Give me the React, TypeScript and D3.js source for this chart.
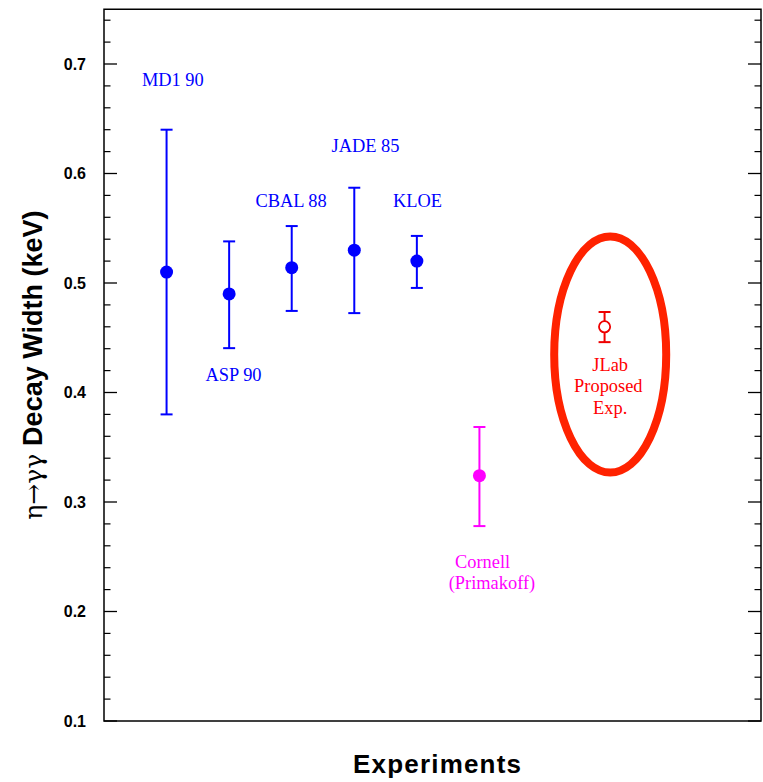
import React from "react";
import * as d3 from "d3";

const names = ["MD1 90", "ASP 90", "CBAL 88", "JADE 85", "KLOE", "Cornell", "JLab"];
const positions = [1, 2, 3, 4, 5, 6, 8];
const values = [0.51, 0.49, 0.514, 0.53, 0.52, 0.324, 0.46];
const errHigh = [0.64, 0.538, 0.552, 0.587, 0.543, 0.3685, 0.4735];
const errLow = [0.38, 0.4405, 0.4745, 0.4725, 0.4955, 0.278, 0.446];
const groups = ["past", "past", "past", "past", "past", "primakoff", "proposed"];

// label lines: [x position, y value (baseline), text, group]
const labelX = [1.1, 2.07, 2.99, 4.18, 5.01, 6.05, 6.2, 8.09, 8.06, 8.09];
const labelY = [0.6795, 0.4105, 0.5697, 0.6199, 0.5697, 0.2397, 0.2205, 0.4199, 0.4005, 0.3808];
const labelText = ["MD1 90", "ASP 90", "CBAL 88", "JADE 85", "KLOE", "Cornell", "(Primakoff)", "JLab", "Proposed", "Exp."];
const labelGroup = ["past", "past", "past", "past", "past", "primakoff", "primakoff", "proposed", "proposed", "proposed"];

const yTicks = [0.1, 0.2, 0.3, 0.4, 0.5, 0.6, 0.7];
const ellipseCenter = [8.09, 0.4347];
const ellipseHalf = [0.895, 0.1078];

const colors: Record<string, string> = { past: "#0000ff", primakoff: "#ff00ff", proposed: "#ee0000" };

export default function App() {
  const W = 763, H = 782;
  const x = d3.scaleLinear().domain([0, 10.5]).range([104, 761]);
  const y = d3.scaleLinear().domain([0.1, 0.75]).range([721, 9.25]);
  const minor = d3.range(0.12, 0.75, 0.02).filter((v) => Math.abs(Math.round(v * 10) - v * 10) > 1e-6);
  const x0 = x(0), x1 = x(10.5), yTop = y(0.75), yBot = y(0.1);
  const capW = 6;

  return (
    <svg width={W} height={H} style={{ position: "absolute", left: 0, top: 0, background: "#fff" }}>
      <rect x={0} y={0} width={W} height={H} fill="#fff" />
      {/* ticks */}
      {yTicks.map((t) => (
        <g key={"M" + t}>
          <line x1={x0} x2={x0 + 13} y1={y(t)} y2={y(t)} stroke="#000" strokeWidth={1.3} />
          <line x1={x1} x2={x1 - 13} y1={y(t)} y2={y(t)} stroke="#000" strokeWidth={1.3} />
          <text x={86} y={y(t)} dy="0.36em" textAnchor="end" fontFamily="Liberation Sans, Arial, sans-serif" fontWeight="bold" fontSize={16} fill="#000">
            {d3.format(".1f")(t)}
          </text>
        </g>
      ))}
      {minor.map((t) => (
        <g key={"m" + t}>
          <line x1={x0} x2={x0 + 6.5} y1={y(t)} y2={y(t)} stroke="#000" strokeWidth={1.2} />
          <line x1={x1} x2={x1 - 6.5} y1={y(t)} y2={y(t)} stroke="#000" strokeWidth={1.2} />
        </g>
      ))}
      {/* frame */}
      <rect x={x0} y={yTop} width={x1 - x0} height={yBot - yTop} fill="none" stroke="#000" strokeWidth={1.5} />

      {/* ellipse */}
      <ellipse
        cx={x(ellipseCenter[0])}
        cy={y(ellipseCenter[1])}
        rx={x(ellipseCenter[0] + ellipseHalf[0]) - x(ellipseCenter[0])}
        ry={y(ellipseCenter[1]) - y(ellipseCenter[1] + ellipseHalf[1])}
        fill="none"
        stroke="#ff2200"
        strokeWidth={8}
      />

      {/* error bars and points */}
      {names.map((n, i) => {
        const cx = x(positions[i]);
        const c = colors[groups[i]];
        const open = groups[i] === "proposed";
        return (
          <g key={n}>
            <line x1={cx} x2={cx} y1={y(errHigh[i])} y2={y(errLow[i])} stroke={c} strokeWidth={2} />
            <line x1={cx - capW} x2={cx + capW} y1={y(errHigh[i])} y2={y(errHigh[i])} stroke={c} strokeWidth={2} />
            <line x1={cx - capW} x2={cx + capW} y1={y(errLow[i])} y2={y(errLow[i])} stroke={c} strokeWidth={2} />
            {open ? (
              <circle cx={cx} cy={y(values[i])} r={5.6} fill="#fff" stroke={c} strokeWidth={1.8} />
            ) : (
              <circle cx={cx} cy={y(values[i])} r={6.5} fill={c} />
            )}
          </g>
        );
      })}

      {/* labels */}
      {labelText.map((t, i) => (
        <text
          key={"l" + i}
          x={x(labelX[i])}
          y={y(labelY[i])}
          textAnchor="middle"
          fontFamily="Liberation Serif, Times New Roman, serif"
          fontSize={18.4}
          fill={labelGroup[i] === "proposed" ? "#ff0000" : colors[labelGroup[i]]}
        >
          {t}
        </text>
      ))}

      {/* y axis title */}
      <text
        transform={`translate(42, ${(yTop + yBot) / 2}) rotate(-90)`}
        textAnchor="middle"
        fill="#000"
        fontSize={27}
      >
        <tspan fontFamily="DejaVu Serif, Liberation Serif, serif" fontSize={25}>η→γγ</tspan>
        <tspan fontFamily="Liberation Sans, Arial, sans-serif" fontWeight="bold" dx={8}>Decay Width (keV)</tspan>
      </text>

      {/* x axis title */}
      <text
        x={437}
        y={773}
        textAnchor="middle"
        fontFamily="Liberation Sans, Arial, sans-serif"
        fontWeight="bold"
        fontSize={26}
        textLength={168}
        lengthAdjust="spacing"
        fill="#000"
      >
        Experiments
      </text>
    </svg>
  );
}
